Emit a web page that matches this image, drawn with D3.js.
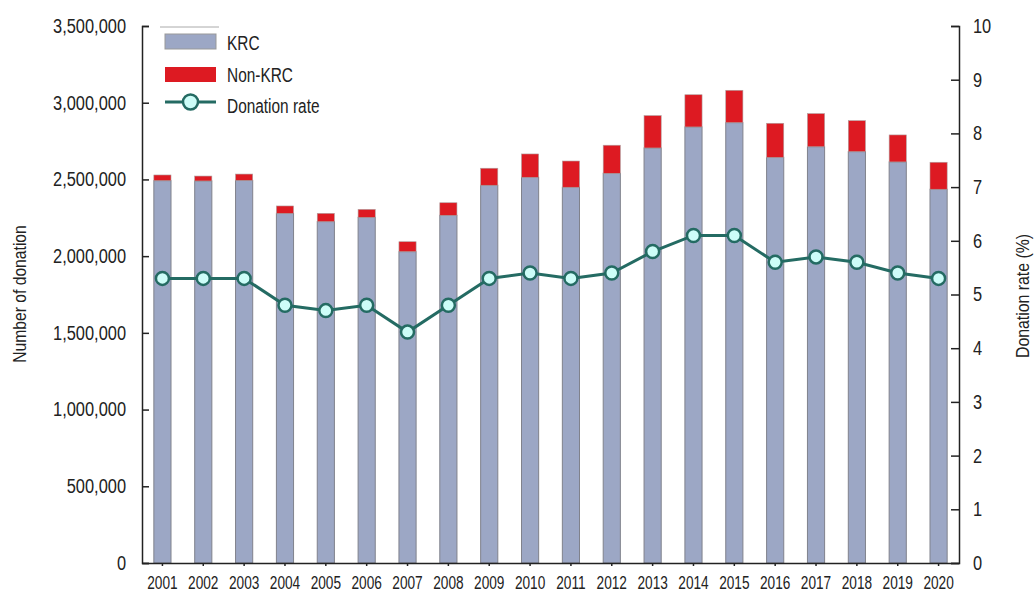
<!DOCTYPE html>
<html>
<head>
<meta charset="utf-8">
<script src="https://cdn.jsdelivr.net/npm/d3@7"></script>
<style>
  body { margin: 0; background: #fff; }
  svg text { font-family: "Liberation Sans", Arial, sans-serif; fill: #222; }
  .axis path, .axis line { stroke: #222; stroke-width: 1.5; }
</style>
</head>
<body>
<svg id="chart" width="1035" height="592"></svg>
<script>
// values
var years = ["2001","2002","2003","2004","2005","2006","2007","2008","2009","2010",
             "2011","2012","2013","2014","2015","2016","2017","2018","2019","2020"];
var krc = [2492000, 2490000, 2494000, 2279000, 2225000, 2253000, 2029000, 2266000, 2462000, 2514000,
           2449000, 2540000, 2705000, 2842000, 2870000, 2644000, 2713000, 2681000, 2614000, 2436000];
var nonKrc = [37000, 32000, 41000, 48000, 54000, 52000, 65000, 82000, 111000, 152000,
              171000, 183000, 211000, 210000, 211000, 222000, 216000, 202000, 176000, 176000];
var rate = [5.3, 5.3, 5.3, 4.8, 4.7, 4.8, 4.3, 4.8, 5.3, 5.4,
            5.3, 5.4, 5.8, 6.1, 6.1, 5.6, 5.7, 5.6, 5.4, 5.3];
var countTicks = [0, 500000, 1000000, 1500000, 2000000, 2500000, 3000000, 3500000];
var rateTicks = [0, 1, 2, 3, 4, 5, 6, 7, 8, 9, 10];

var colKrc = "#9ca7c5", colNon = "#dd1a22", colLine = "#246b63", colDot = "#cdfdf8";

var margin = {top: 26, right: 76, bottom: 29, left: 142},
    width = 1035 - margin.left - margin.right,
    height = 592 - margin.top - margin.bottom;

// the reference uses a condensed face; squeeze the text horizontally
function squeeze(sel, k){
  sel.each(function(){
    var w = this.getComputedTextLength();
    d3.select(this).attr("textLength", w * k).attr("lengthAdjust", "spacingAndGlyphs");
  });
}

var svg = d3.select("#chart");
var g = svg.append("g").attr("transform", "translate(" + margin.left + "," + margin.top + ")");

var x = d3.scaleBand().domain(years).range([0, width]).paddingInner(0.58).paddingOuter(0.29);
var y = d3.scaleLinear().domain([0, 3500000]).range([height, 0]);
var y2 = d3.scaleLinear().domain([0, 10]).range([height, 0]);

// bars: KRC on bottom, non-KRC stacked on top
var bar = g.selectAll(".bar")
  .data(years)
  .enter().append("g")
  .attr("class", "bar");

bar.append("rect")
  .attr("x", function(d){ return x(d); })
  .attr("y", function(d, i){ return y(krc[i]); })
  .attr("width", x.bandwidth())
  .attr("height", function(d, i){ return height - y(krc[i]); })
  .style("fill", colKrc)
  .style("stroke", "#80828c")
  .style("stroke-width", 1);

bar.append("rect")
  .attr("x", function(d){ return x(d); })
  .attr("y", function(d, i){ return y(krc[i] + nonKrc[i]); })
  .attr("width", x.bandwidth())
  .attr("height", function(d, i){ return y(krc[i]) - y(krc[i] + nonKrc[i]); })
  .style("fill", colNon)
  .style("stroke", "#b0a0a0")
  .style("stroke-width", 0.6);

// axes
var fmt = d3.format(",");
g.append("g").attr("class", "axis")
  .call(d3.axisLeft(y).tickValues(countTicks).tickFormat(fmt).tickSize(-7).tickSizeOuter(-7).tickPadding(16))
  .selectAll("text").style("font-size", "20px").call(squeeze, 0.82);

g.append("g").attr("class", "axis")
  .attr("transform", "translate(" + width + ",0)")
  .call(d3.axisRight(y2).tickValues(rateTicks).tickSize(-8).tickSizeOuter(-8).tickPadding(14))
  .selectAll("text").style("font-size", "20px").call(squeeze, 0.82);

g.append("g").attr("class", "axis")
  .attr("transform", "translate(0," + height + ")")
  .call(d3.axisBottom(x).tickSize(3).tickSizeOuter(0).tickPadding(11))
  .selectAll("text").style("font-size", "17.5px").call(squeeze, 0.78);

// donation rate line
var line = d3.line()
  .x(function(d, i){ return x(years[i]) + x.bandwidth() / 2; })
  .y(function(d){ return y2(d); });

g.append("path")
  .datum(rate)
  .attr("d", line)
  .style("fill", "none")
  .style("stroke", colLine)
  .style("stroke-width", 3);

g.selectAll(".dot")
  .data(rate)
  .enter().append("circle")
  .attr("class", "dot")
  .attr("cx", function(d, i){ return x(years[i]) + x.bandwidth() / 2; })
  .attr("cy", function(d){ return y2(d); })
  .attr("r", 6.5)
  .style("fill", colDot)
  .style("stroke", colLine)
  .style("stroke-width", 2.5);

// axis titles
svg.append("text")
  .attr("transform", "translate(26,294) rotate(-90)")
  .attr("text-anchor", "middle")
  .style("font-size", "18px")
  .text("Number of donation")
  .call(squeeze, 0.87);

svg.append("text")
  .attr("transform", "translate(1029,296) rotate(-90)")
  .attr("text-anchor", "middle")
  .style("font-size", "18px")
  .text("Donation rate (%)")
  .call(squeeze, 0.88);

// legend
var legend = svg.append("g").attr("transform", "translate(165,0)");
legend.append("line")
  .attr("x1", -5).attr("x2", 54).attr("y1", 27).attr("y2", 27)
  .style("stroke", "#aaa").style("stroke-width", 1);
legend.append("rect").attr("x", 0).attr("y", 34).attr("width", 51).attr("height", 15)
  .style("fill", colKrc).style("stroke", "#999");
legend.append("rect").attr("x", 0).attr("y", 67).attr("width", 51).attr("height", 15)
  .style("fill", colNon);
legend.append("line").attr("x1", 0).attr("x2", 51).attr("y1", 102).attr("y2", 102)
  .style("stroke", colLine).style("stroke-width", 3);
legend.append("circle").attr("cx", 25.5).attr("cy", 102).attr("r", 7.5)
  .style("fill", colDot).style("stroke", colLine).style("stroke-width", 2.5);

var legendLabels = ["KRC", "Non-KRC", "Donation rate"];
var legendY = [43, 75, 106];
legend.selectAll(".legendLabel")
  .data(legendLabels)
  .enter().append("text")
  .attr("class", "legendLabel")
  .attr("x", 62)
  .attr("y", function(d, i){ return legendY[i]; })
  .attr("dy", "0.35em")
  .style("font-size", "19.5px")
  .text(function(d){ return d; })
  .call(squeeze, 0.79);
</script>
</body>
</html>
